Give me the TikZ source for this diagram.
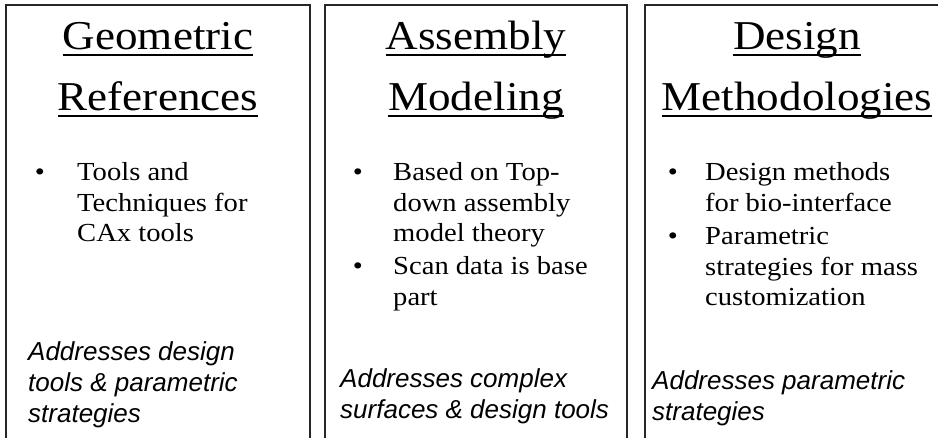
\documentclass[tikz,border=0pt]{standalone}
\usepackage{fontspec}
\setmainfont{Liberation Serif}[FakeStretch=1.1]
\setsansfont{Liberation Sans}
\newcommand{\lnA}[1]{\hbox{\strut #1}}
\begin{document}
\begin{tikzpicture}[x=1pt,y=-1pt,
  boxline/.style={draw=black!85, line width=1.6pt},
  title/.style={font=\fontsize{41}{49}\selectfont, inner sep=0pt, anchor=base},
  uline/.style={line width=2pt},
  item/.style={font=\fontsize{26}{30.5}\selectfont, inner sep=0pt, anchor=base west},
  dot/.style={font=\fontsize{26}{30.5}\selectfont, inner sep=0pt, anchor=base},
  note/.style={font=\sffamily\itshape\fontsize{26}{31}\selectfont, inner sep=0pt, anchor=base west}]
\useasboundingbox (0,0) rectangle (938,438);
% boxes
\draw[boxline] (6,445) -- (6,5) -- (310,5) -- (310,445);
\draw[boxline] (325,445) -- (325,5) -- (627,5) -- (627,445);
\draw[boxline] (645,445) -- (645,5) -- (960,5);
% box 1
\node[title] (t1a) at (158,50) {Geometric};
\node[title] (t1b) at (158,111) {References};
\draw[uline] ([yshift=-5pt]t1a.base west) -- ([yshift=-5pt]t1a.base east);
\draw[uline] ([yshift=-5pt]t1b.base west) -- ([yshift=-5pt]t1b.base east);
\node[dot] (b11) at (40,181) {•};
\node[item] (i11) at (77,181) {\vtop{\lnA{Tools and}\lnA{Techniques for}\lnA{CAx tools}}};
\node[note] (n1) at (28,361) {\vtop{\lnA{Addresses design}\lnA{tools \& parametric}\lnA{strategies}}};
% box 2
\node[title] (t2a) at (476,50) {Assembly};
\node[title] (t2b) at (476,111) {Modeling};
\draw[uline] ([yshift=-5pt]t2a.base west) -- ([yshift=-5pt]t2a.base east);
\draw[uline] ([yshift=-5pt]t2b.base west) -- ([yshift=-5pt]t2b.base east);
\node[dot] (b21) at (358,181) {•};
\node[item] (i21) at (393,181) {\vtop{\lnA{Based on Top-}\lnA{down assembly}\lnA{model theory}}};
\node[dot] (b22) at (358,275) {•};
\node[item] (i22) at (393,275) {\vtop{\lnA{Scan data is base}\lnA{part}}};
\node[note] (n2) at (340,388) {\vtop{\lnA{Addresses complex}\lnA{surfaces \& design tools}}};
% box 3
\node[title] (t3a) at (797,50) {Design};
\node[title] (t3b) at (797,111) {Methodologies};
\draw[uline] ([yshift=-5pt]t3a.base west) -- ([yshift=-5pt]t3a.base east);
\draw[uline] ([yshift=-5pt]t3b.base west) -- ([yshift=-5pt]t3b.base east);
\node[dot] (b31) at (673,181) {•};
\node[item] (i31) at (705,181) {\vtop{\lnA{Design methods}\lnA{for bio-interface}}};
\node[dot] (b32) at (673,245) {•};
\node[item] (i32) at (705,245) {\vtop{\lnA{Parametric}\lnA{strategies for mass}\lnA{customization}}};
\node[note] (n3) at (652,390) {\vtop{\lnA{Addresses parametric}\lnA{strategies}}};
\end{tikzpicture}
\end{document}
